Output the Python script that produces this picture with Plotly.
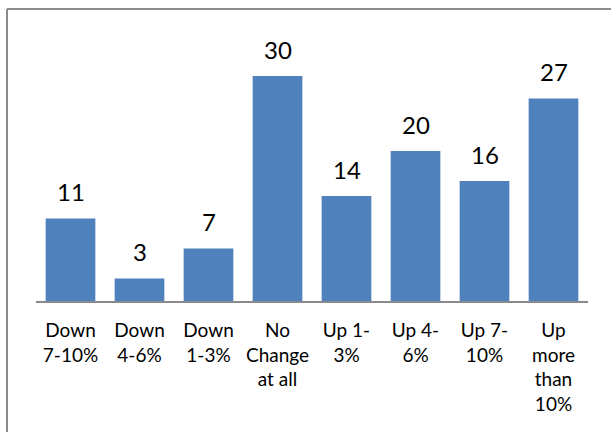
import plotly.graph_objects as go

categories = ["Down<br>7-10%", "Down<br>4-6%", "Down<br>1-3%", "No<br>Change<br>at all",
              "Up 1-<br>3%", "Up 4-<br>6%", "Up 7-<br>10%", "Up<br>more<br>than<br>10%"]
values = [11, 3, 7, 30, 14, 20, 16, 27]

W, H = 611, 432
L, R, T, B = 36, 23, 20, 131
ph = H - T - B
pw = W - L - R
ymax = ph / 7.5

fig = go.Figure()
fig.add_trace(go.Bar(x=categories, y=values, marker_color="#4F81BD",
                     marker_line_width=0, hoverinfo="skip"))

for c, v in zip(categories, values):
    fig.add_annotation(x=c, y=v, text=str(v), showarrow=False,
                       yanchor="middle", yshift=27,
                       font=dict(family="Lato", size=24, color="#000000"))

def px_x(p):
    return (p - L) / pw

def px_y(p):
    return (H - B - p) / ph

border = dict(color="#8C8C8C", width=2)
fig.add_shape(type="line", xref="paper", yref="paper",
              x0=px_x(7), x1=px_x(W), y0=px_y(9), y1=px_y(9), line=border)
fig.add_shape(type="line", xref="paper", yref="paper",
              x0=px_x(7), x1=px_x(7), y0=px_y(9), y1=px_y(H), line=border)

fig.update_layout(
    width=W, height=H,
    margin=dict(l=L, r=R, t=T, b=B),
    paper_bgcolor="white", plot_bgcolor="white",
    bargap=0.28,
    showlegend=False,
    font=dict(family="Lato", size=19, color="#000000"),
    xaxis=dict(showline=True, linecolor="#898989", linewidth=2,
               ticks="", showgrid=False, tickfont=dict(size=19, color="#000000"),
               ticklabelstandoff=11, fixedrange=True),
    yaxis=dict(range=[0, ymax], visible=False, showgrid=False, fixedrange=True),
)

fig.write_html("out.html")
